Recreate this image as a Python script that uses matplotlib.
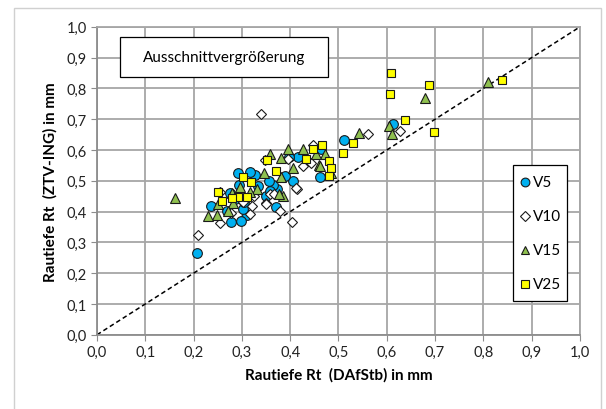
import matplotlib
matplotlib.use("Agg")
import matplotlib.pyplot as plt
from matplotlib.ticker import FuncFormatter, MultipleLocator
from matplotlib.patches import Rectangle

plt.rcParams['font.family'] = ['Lato', 'DejaVu Sans']

# V5 (circles)
v5_x = [0.208, 0.613, 0.512, 0.461, 0.463, 0.417, 0.398, 0.405, 0.389, 0.373, 0.371,
        0.365, 0.356, 0.350, 0.333, 0.327, 0.317, 0.310, 0.302, 0.299, 0.293, 0.294,
        0.304, 0.277, 0.270, 0.275, 0.236, 0.286, 0.358]
v5_y = [0.265, 0.683, 0.632, 0.511, 0.605, 0.579, 0.579, 0.498, 0.516, 0.472, 0.416,
        0.487, 0.500, 0.451, 0.482, 0.518, 0.529, 0.388, 0.408, 0.370, 0.527, 0.486,
        0.431, 0.366, 0.403, 0.462, 0.418, 0.440, 0.467]

# V10 (diamonds)
v10_x = [0.210, 0.340, 0.403, 0.627, 0.562, 0.448, 0.427, 0.415, 0.412, 0.379, 0.359,
         0.367, 0.348, 0.326, 0.317, 0.302, 0.278, 0.255, 0.254, 0.322, 0.350, 0.396,
         0.443, 0.351]
v10_y = [0.324, 0.716, 0.367, 0.662, 0.652, 0.617, 0.547, 0.475, 0.476, 0.403, 0.456,
         0.458, 0.567, 0.451, 0.392, 0.431, 0.397, 0.363, 0.464, 0.418, 0.429, 0.570,
         0.559, 0.424]

# V15 (triangles)
v15_x = [0.161, 0.809, 0.680, 0.604, 0.610, 0.543, 0.427, 0.395, 0.382, 0.358, 0.346,
         0.472, 0.453, 0.460, 0.461, 0.485, 0.406, 0.382, 0.386, 0.376, 0.332, 0.317,
         0.296, 0.279, 0.282, 0.272, 0.248, 0.230, 0.251]
v15_y = [0.444, 0.821, 0.770, 0.678, 0.653, 0.654, 0.605, 0.603, 0.573, 0.587, 0.527,
         0.587, 0.587, 0.551, 0.548, 0.526, 0.543, 0.514, 0.451, 0.456, 0.473, 0.464,
         0.479, 0.462, 0.427, 0.402, 0.388, 0.386, 0.424]

# V25 (squares)
v25_x = [0.608, 0.606, 0.688, 0.838, 0.637, 0.698, 0.530, 0.509, 0.466, 0.448, 0.433,
         0.480, 0.484, 0.480, 0.371, 0.353, 0.318, 0.302, 0.310, 0.293, 0.279, 0.259,
         0.251]
v25_y = [0.849, 0.781, 0.810, 0.827, 0.697, 0.658, 0.623, 0.592, 0.617, 0.603, 0.570,
         0.565, 0.543, 0.516, 0.532, 0.567, 0.495, 0.511, 0.446, 0.446, 0.444, 0.433,
         0.464]

series = [
    ("V5", v5_x, v5_y, "o", "#00B0F0", 7.0),
    ("V10", v10_x, v10_y, "D", "white", 5.6),
    ("V15", v15_x, v15_y, "^", "#8FC04F", 7.0),
    ("V25", v25_x, v25_y, "s", "#FFFF00", 6.2),
]

fig = plt.figure(figsize=(6.06, 4.10), dpi=100)
fig.patches.append(Rectangle((13.5 / 606, -0.05), (601 - 13.5) / 606, 1.028,
                             transform=fig.transFigure, fill=False,
                             edgecolor="#D0D0D0", linewidth=1.0))
ax = fig.add_axes([0.160, 0.181, 0.797, 0.751])
ax.set_xlim(0, 1)
ax.set_ylim(0, 1)
ax.xaxis.set_major_locator(MultipleLocator(0.1))
ax.yaxis.set_major_locator(MultipleLocator(0.1))
fmt = FuncFormatter(lambda v, p: f"{v:.1f}".replace(".", ","))
ax.xaxis.set_major_formatter(fmt)
ax.yaxis.set_major_formatter(fmt)
ax.grid(True, color="#A6A6A6", linewidth=1.3)
ax.set_axisbelow(True)
for s in ax.spines.values():
    s.set_color("#A6A6A6")
    s.set_linewidth(1.3)
ax.spines["left"].set_color("#8C8C8C")
ax.spines["bottom"].set_color("#8C8C8C")
ax.tick_params(direction="out", length=4, color="#8C8C8C", labelsize=10.5,
               labelcolor="#222222")

ax.plot([0, 1], [0, 1], linestyle=(0, (3, 2)), color="black", linewidth=1.1, zorder=2)

for name, xs, ys, m, c, ms in series:
    ax.plot(xs, ys, linestyle="none", marker=m, markersize=ms, markerfacecolor=c,
            markeredgecolor="#1a1a1a", markeredgewidth=0.8, zorder=3)

ax.set_xlabel("Rautiefe Rt  (DAfStb) in mm", fontsize=11, fontweight="bold", labelpad=6)
ax.set_ylabel("Rautiefe Rt  (ZTV-ING) in mm", fontsize=11, fontweight="bold", labelpad=6)

# Text box
ax.add_patch(Rectangle((0.047, 0.838), 0.432, 0.130, facecolor="white",
                       edgecolor="black", linewidth=0.9, zorder=5))
ax.text(0.263, 0.903, "Ausschnittvergrößerung", ha="center", va="center",
        fontsize=11, zorder=6)

# Legend box
ax.add_patch(Rectangle((0.862, 0.110), 0.112, 0.441, facecolor="white",
                       edgecolor="black", linewidth=0.9, zorder=5))
leg_y = [0.496, 0.386, 0.276, 0.164]
for (name, xs, ys, m, c, ms), ly in zip(series, leg_y):
    ax.plot([0.887], [ly], marker=m, markersize=ms * 0.9, markerfacecolor=c,
            markeredgecolor="#1a1a1a", markeredgewidth=0.8, linestyle="none", zorder=6)
    ax.text(0.903, ly, name, ha="left", va="center", fontsize=11, zorder=6)

fig.savefig("out.png", dpi=100)
